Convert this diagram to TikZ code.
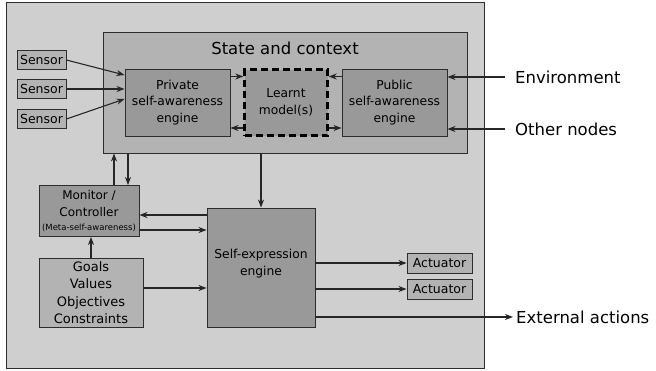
\documentclass[tikz,border=0pt]{standalone}
\usepackage{fontspec}
\setmainfont{DejaVu Sans}
\usepackage{tikz}
\usetikzlibrary{arrows.meta}

\definecolor{outergray}{RGB}{207,207,207}
\definecolor{midgray}{RGB}{179,179,179}
\definecolor{darkgray}{RGB}{153,153,153}
\definecolor{edgegray}{RGB}{45,45,45}

\begin{document}
\begin{tikzpicture}[x=1pt,y=-1pt,
  every node/.style={inner sep=0pt,align=center},
  box/.style={draw=edgegray,line width=0.9pt,rectangle},
  engine/.style={box,fill=darkgray,font=\fontsize{12.3}{16.7}\selectfont},
  small/.style={box,fill=midgray,font=\fontsize{12.5}{15}\selectfont},
  outlabel/.style={anchor=west,font=\fontsize{16.5}{20}\selectfont},
  arr/.style={-{Stealth[length=8pt,width=6pt,inset=2.5pt]},line width=1.1pt,draw=black!85}]

\useasboundingbox (0,0) rectangle (656,370);
\fill[white] (0,0) rectangle (656,370);

\node[box,fill=outergray,minimum width=478pt,minimum height=366pt] (outer) at (245,185) {};
\node[box,fill=midgray,minimum width=364pt,minimum height=121pt] (state) at (285,92.5) {};
\node[font=\fontsize{16.5}{19}\selectfont] (title) at (285,48) {State and context};

\node[engine,minimum width=105pt,minimum height=67pt] (priv) at (177.5,102.5) {Private\\self-awareness\\engine};
\node[engine,draw=black,line width=2.4pt,dash pattern=on 7pt off 4pt,minimum width=83pt,minimum height=66pt] (learn) at (286,102.5) {Learnt\\model(s)};
\node[engine,minimum width=105pt,minimum height=67pt] (pub) at (394.5,102.5) {Public\\self-awareness\\engine};

\node[small,minimum width=49pt,minimum height=19pt] (sen1) at (41.5,60) {Sensor};
\node[small,minimum width=49pt,minimum height=19pt] (sen2) at (41.5,89) {Sensor};
\node[small,minimum width=49pt,minimum height=19pt] (sen3) at (41.5,119) {Sensor};

\node[engine,minimum width=100pt,minimum height=51pt,font=\fontsize{12}{17}\selectfont] (mon) at (89,211)
  {Monitor /\\Controller\\[-3pt]{\fontsize{8.5}{10}\selectfont (Meta-self-awareness)}};
\node[box,fill=midgray,minimum width=104pt,minimum height=69pt,font=\fontsize{13}{17.5}\selectfont] (goals) at (91,292.5)
  {Goals\\Values\\Objectives\\Constraints};
\node[engine,minimum width=108pt,minimum height=119pt] (sexp) at (261,267.5) {Self-expression\\engine\\[-7pt]\mbox{}};

\node[small,minimum width=65pt,minimum height=20pt] (act1) at (439.5,263) {Actuator};
\node[small,minimum width=65pt,minimum height=20pt] (act2) at (439.5,289) {Actuator};

\node[outlabel] (env) at (515,77) {Environment};
\node[outlabel] (oth) at (515,129) {Other nodes};
\node[outlabel] (ext) at (516,317) {External actions};

% sensors into the private engine
\draw[arr] (sen1.east) -- ([yshift=27.5pt]priv.west);
\draw[arr] (sen2.east) -- (sen2 -| priv.west);
\draw[arr] (sen3.east) -- ([yshift=3.5pt]priv.west);

% engines and learnt models
\draw[arr] ([yshift=26pt]priv.east) -- ([yshift=26pt]learn.west);
\draw[arr] ([yshift=-25.5pt]learn.west) -- ([yshift=-25.5pt]priv.east);
\draw[arr] ([yshift=26pt]pub.west) -- ([yshift=26pt]learn.east);
\draw[arr] ([yshift=-25.5pt]learn.east) -- ([yshift=-25.5pt]pub.west);

% outside inputs
\draw[arr] ([xshift=-10pt]env.west) -- (env.west -| pub.east);
\draw[arr] ([xshift=-10pt]oth.west) -- (oth.west -| pub.east);

% monitor and state
\draw[arr] ([xshift=25pt]mon.north) -- ([xshift=25pt]mon.north |- state.south);
\draw[arr] ([xshift=39pt]mon.north |- state.south) -- ([xshift=39pt]mon.north);
\draw[arr] (state.south -| sexp.north) -- (sexp.north);

% monitor, goals and self-expression
\draw[arr] ([yshift=52.5pt]sexp.west) -- ([yshift=52.5pt]sexp.west -| mon.east);
\draw[arr] ([yshift=-19pt]mon.east) -- ([yshift=-19pt]mon.east -| sexp.west);
\draw[arr] (goals.north) -- (goals.north |- mon.south);
\draw[arr] ([yshift=4.5pt]goals.east) -- ([yshift=4.5pt]goals.east -| sexp.west);

% outputs
\draw[arr] (act1 -| sexp.east) -- (act1.west);
\draw[arr] (act2 -| sexp.east) -- (act2.west);
\draw[arr] (ext -| sexp.east) -- ([xshift=-3pt]ext.west);

\end{tikzpicture}
\end{document}
